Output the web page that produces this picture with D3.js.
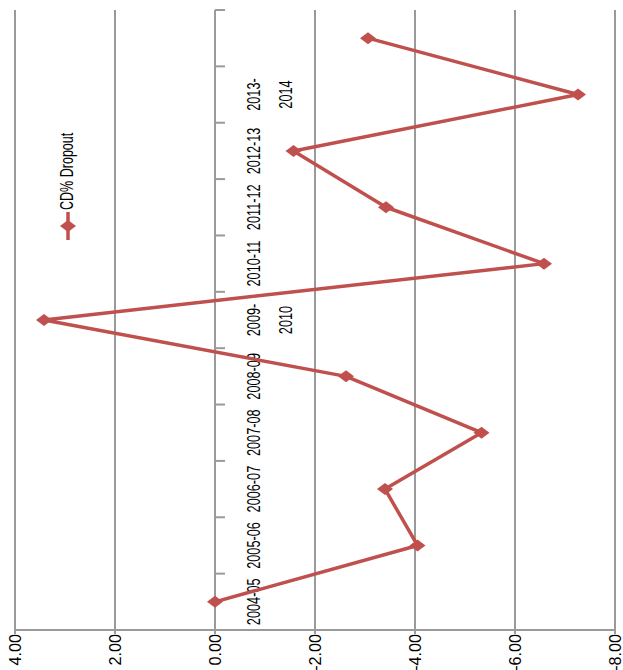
<!DOCTYPE html>
<html><head><meta charset="utf-8">
<script src="https://cdn.jsdelivr.net/npm/d3@7"></script>
<style>html,body{margin:0;padding:0;background:#fff;}</style>
</head><body>
<script>
const categories = ["2004-05","2005-06","2006-07","2007-08","2008-09","2009-2010","2010-11","2011-12","2012-13","2013-2014",""];
const categoryLines = [["2004-05"],["2005-06"],["2006-07"],["2007-08"],["2008-09"],["2009-","2010"],["2010-11"],["2011-12"],["2012-13"],["2013-","2014"],[""]];
const dropout = [0.00,-4.05,-3.40,-5.33,-2.62,3.42,-6.58,-3.42,-1.57,-7.26,-3.06];
const valueTicks = [4,2,0,-2,-4,-6,-8];
const seriesName = "CD% Dropout";

const W=623,H=670;
const svg=d3.select("body").append("svg").attr("width",W).attr("height",H);
const x=d3.scaleLinear().domain([4,-8]).range([15,615]);
const y=d3.scaleBand().domain(categories).range([630,10]).padding(0);
const bw=y.bandwidth();
const cy=c=>y(c)+bw/2;
const font="'Liberation Sans', Arial, sans-serif";
const gridColor="#9a9a9a";

// gridlines
svg.append("g").selectAll("line").data(valueTicks).join("line")
  .attr("x1",d=>x(d)).attr("x2",d=>x(d)).attr("y1",10).attr("y2",630)
  .attr("stroke",gridColor).attr("stroke-width",2);
// value axis
const va=svg.append("g");
va.append("line").attr("x1",x(4)).attr("x2",x(-8)).attr("y1",630).attr("y2",630).attr("stroke",gridColor).attr("stroke-width",2);
va.selectAll("line.t").data(valueTicks).join("line").attr("class","t")
  .attr("x1",d=>x(d)).attr("x2",d=>x(d)).attr("y1",630).attr("y2",634).attr("stroke",gridColor).attr("stroke-width",2);
va.selectAll("text").data(valueTicks).join("text")
  .attr("transform",d=>`translate(${x(d)+6},634) rotate(-90) scale(0.95,1)`)
  .attr("text-anchor","end").attr("font-family",font).attr("font-size",17).attr("fill","#000")
  .text(d=>d3.format(".2f")(d).replace("−","-"));
// category axis
const ca=svg.append("g");
ca.append("line").attr("x1",x(0)).attr("x2",x(0)).attr("y1",10).attr("y2",630).attr("stroke",gridColor).attr("stroke-width",2);
const bounds=categories.map(c=>y(c)).concat([630]);
ca.selectAll("line.t").data(bounds).join("line").attr("class","t")
  .attr("x1",x(0)).attr("x2",x(0)+10).attr("y1",d=>d).attr("y2",d=>d).attr("stroke",gridColor).attr("stroke-width",2);
categories.forEach((c,i)=>{
  categoryLines[i].forEach((ln,j)=>{
    ca.append("text").attr("transform",`translate(${260+j*32},${cy(c)}) rotate(-90) scale(0.67,1)`)
      .attr("text-anchor","middle").attr("font-family",font).attr("font-size",19).attr("fill","#000").text(ln);
  });
});
// series
const color="#c0504d";
const pts=categories.map((c,i)=>[x(dropout[i]),cy(c)]);
svg.append("path").attr("d",d3.line()(pts)).attr("fill","none").attr("stroke",color).attr("stroke-width",3.5).attr("stroke-linejoin","round");
const diamond=(px,py)=>`M${px-8},${py}L${px},${py-6}L${px+8},${py}L${px},${py+6}Z`;
svg.append("g").selectAll("path").data(pts).join("path").attr("d",d=>diamond(d[0],d[1])).attr("fill",color);
// legend
const lg=svg.append("g");
lg.append("line").attr("x1",68).attr("x2",68).attr("y1",212).attr("y2",240).attr("stroke",color).attr("stroke-width",3.5);
lg.append("path").attr("d",`M60,226L68,220L76,226L68,232Z`).attr("fill",color);
lg.append("text").attr("transform","translate(73,210) rotate(-90) scale(0.66,1)")
  .attr("text-anchor","start").attr("font-family",font).attr("font-size",19).attr("fill","#000").text(seriesName);
</script>
</body></html>
